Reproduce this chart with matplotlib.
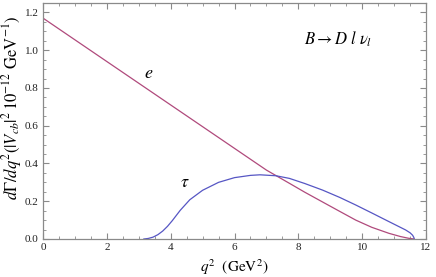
import matplotlib
matplotlib.use("Agg")
import matplotlib.pyplot as plt
from matplotlib.ticker import MultipleLocator, FuncFormatter

plt.rcParams['font.family'] = ['Liberation Serif', 'DejaVu Serif']
plt.rcParams['mathtext.fontset'] = 'stix'

# Data
q2_e = [0.0, 1.0, 2.0, 3.0, 4.0, 5.0, 6.0, 7.0, 7.72, 8.2, 8.76, 9.3, 9.8, 10.3, 10.84, 11.2, 11.45, 11.63]
rate_e = [1.17, 1.055, 0.94, 0.825, 0.71, 0.595, 0.48, 0.365, 0.295, 0.248, 0.196, 0.146, 0.10, 0.062, 0.03, 0.013, 0.004, 0.0]

q2_tau = [3.16, 3.3, 3.45, 3.6, 3.75, 3.9, 4.05, 4.3, 4.6, 5.0, 5.5, 6.0, 6.5, 6.8, 7.3, 7.72,
          8.2, 8.76, 9.3, 9.8, 10.3, 10.84, 11.1, 11.36, 11.5, 11.58, 11.62, 11.63]
rate_tau = [0.0, 0.003, 0.01, 0.023, 0.042, 0.067, 0.097, 0.152, 0.208, 0.258, 0.3, 0.325, 0.337, 0.340,
            0.335, 0.321, 0.294, 0.259, 0.22, 0.18, 0.138, 0.092, 0.07, 0.048, 0.033, 0.02, 0.008, 0.0]

e_color = '#b04a7c'
tau_color = '#5656c4'
frame_color = '#8a8a8a'

fig = plt.figure(figsize=(4.36, 2.77), dpi=100)
ax = fig.add_axes([43/436, 38/277, (426-43)/436, (239-3)/277])

ax.plot(q2_e, rate_e, color=e_color, lw=0.9)
ax.plot(q2_tau, rate_tau, color=tau_color, lw=0.9)

ax.set_xlim(0, 12)
ax.set_ylim(0, 1.25)
ax.xaxis.set_major_locator(MultipleLocator(2))
ax.xaxis.set_minor_locator(MultipleLocator(0.5))
ax.yaxis.set_major_locator(MultipleLocator(0.2))
ax.yaxis.set_minor_locator(MultipleLocator(0.05))
ax.xaxis.set_major_formatter(FuncFormatter(lambda v, p: f"{v:.0f}"))
ax.yaxis.set_major_formatter(FuncFormatter(lambda v, p: f"{v:.1f}"))

ax.tick_params(which='both', direction='in', top=True, right=True, color=frame_color,
               labelsize=8, labelcolor='#222222', pad=3)
ax.tick_params(which='major', length=4, width=0.8)
ax.tick_params(which='minor', length=2, width=0.6)
for s in ax.spines.values():
    s.set_color(frame_color)
    s.set_linewidth(0.9)

ax.set_xlabel(r'$q^2\ \ (\mathrm{GeV}^2)$', fontsize=11, labelpad=4)
ax.set_ylabel(r'$d\Gamma/dq^2(|V_{cb}|^2\,10^{-12}\ \mathrm{GeV}^{-1})$', fontsize=12)
ax.yaxis.set_label_coords(-0.05, 0.555)

ax.text(9.25, 1.06, r'$B \rightarrow D\ l\ \nu_l$', fontsize=12, ha='center', va='center')
ax.text(3.3, 0.875, r'$e$', fontsize=13, ha='center', va='center')
ax.text(4.45, 0.30, r'$\tau$', fontsize=13, ha='center', va='center')

fig.savefig('out.png', dpi=100)
